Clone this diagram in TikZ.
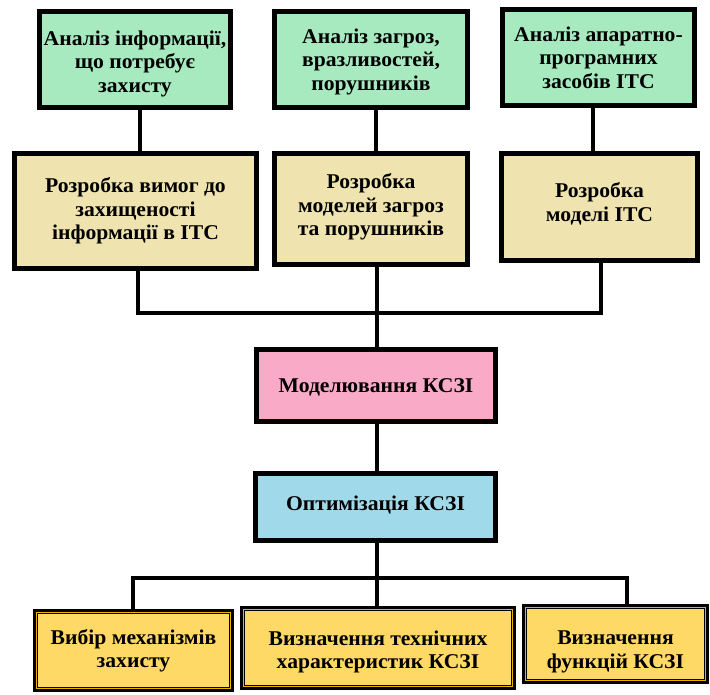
\documentclass[tikz,border=0pt]{standalone}
\usepackage{fontspec}
\setmainfont{Liberation Serif}[FakeStretch=1.03]
\usetikzlibrary{calc}
\definecolor{boxgreen}{HTML}{A8EAC0}
\definecolor{boxtan}{HTML}{EFE4B0}
\definecolor{boxpink}{HTML}{F9AAC6}
\definecolor{boxblue}{HTML}{A0DAEA}
\definecolor{boxyellow}{HTML}{FFD966}
\definecolor{boxgold}{HTML}{E6B400}
\begin{document}
\begin{tikzpicture}[x=1pt,y=-1pt,
  block/.style={draw=black, line width=5pt, rectangle, inner sep=0pt},
  caption/.style={align=center, inner sep=0pt, text=black,
    font=\fontsize{21}{23.5}\selectfont\bfseries},
  link/.style={draw=black, line width=4pt}]
\useasboundingbox (0,0) rectangle (710,694);

% analysis row
\node[block, fill=boxgreen, minimum width=191pt, minimum height=96pt,
  label={[caption, yshift=-4pt]center:Аналіз інформації,\\що потребує\\захисту}] (a1) at (135,59.5) {};
\node[block, fill=boxgreen, minimum width=193pt, minimum height=96pt,
  label={[caption, yshift=-2pt]center:Аналіз загроз,\\вразливостей,\\порушників}] (a2) at (371,59.5) {};
\node[block, fill=boxgreen, minimum width=192pt, minimum height=96pt,
  label={[caption]center:Аналіз апаратно-\\програмних\\засобів ІТС}] (a3) at (598.5,57.5) {};

% development row
\node[block, fill=boxtan, minimum width=242pt, minimum height=115pt,
  label={[caption]center:Розробка вимог до\\захищеності\\інформації в ІТС}] (b1) at (135.5,211) {};
\node[block, fill=boxtan, minimum width=193pt, minimum height=111pt,
  label={[caption, yshift=2pt]center:Розробка\\моделей загроз\\та порушників}] (b2) at (371,209) {};
\node[block, fill=boxtan, minimum width=196pt, minimum height=107pt,
  label={[caption, yshift=3pt]center:Розробка\\моделі ІТС}] (b3) at (599.5,207) {};

% modelling and optimisation
\node[block, fill=boxpink, minimum width=239pt, minimum height=72pt,
  label={[caption, yshift=-2pt]center:Моделювання КСЗІ}] (m) at (376,385.5) {};
\node[block, fill=boxblue, minimum width=240pt, minimum height=67pt,
  label={[caption, yshift=2pt]center:Оптимізація КСЗІ}] (o) at (375.5,507) {};

% outcome row
\node[block, fill=boxyellow, minimum width=196pt, minimum height=78pt] (c1) at (133.5,650.5) {};
\node[block, fill=boxyellow, minimum width=271pt, minimum height=79pt] (c2) at (378,648) {};
\node[block, fill=boxyellow, minimum width=182pt, minimum height=75pt] (c3) at (615.5,644) {};
\foreach \n in {c1,c2,c3}
  \draw[boxgold, line width=1.5pt]
    ([shift={(3.3pt,-3.3pt)}]\n.north west) rectangle ([shift={(-3.3pt,3.3pt)}]\n.south east);
\node[caption] (c1t) at ([yshift=0pt]c1.center) {Вибір механізмів\\захисту};
\node[caption] (c2t) at ([yshift=-4pt]c2.center) {Визначення технічних\\характеристик КСЗІ};
\node[caption] (c3t) at ([yshift=-8pt]c3.center) {Визначення\\функцій КСЗІ};

% connector columns and buses
\coordinate (xa1) at (140,0);
\coordinate (xa2) at (376,0);
\coordinate (xa3) at (593,0);
\coordinate (xb1) at (138,0);
\coordinate (xmid) at (377,0);
\coordinate (xb3) at (601,0);
\coordinate (xc1) at (133,0);
\coordinate (xc3) at (627,0);
\coordinate (bustop) at (0,313);
\coordinate (busbot) at (0,578);

\draw[link] (xa1 |- a1.south) -- (xa1 |- b1.north);
\draw[link] (xa2 |- a2.south) -- (xa2 |- b2.north);
\draw[link] (xa3 |- a3.south) -- (xa3 |- b3.north);
\draw[link] (xb1 |- b1.south) -- (xb1 |- bustop) -- (xb3 |- bustop) -- (xb3 |- b3.south);
\draw[link] (xmid |- b2.south) -- (xmid |- m.north);
\draw[link] (xmid |- m.south) -- (xmid |- o.north);
\draw[link] (xmid |- o.south) -- (xmid |- c2.north);
\draw[link] (xc1 |- c1.north) -- (xc1 |- busbot) -- (xc3 |- busbot) -- (xc3 |- c3.north);
\end{tikzpicture}
\end{document}
